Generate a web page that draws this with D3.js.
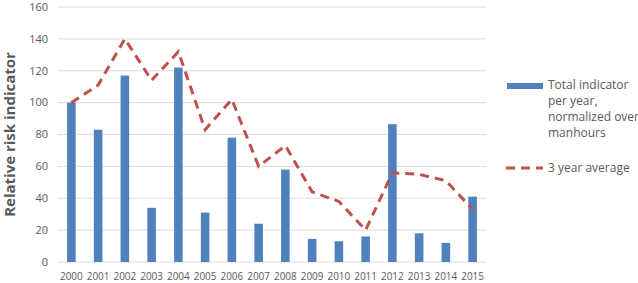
<!DOCTYPE html>
<html>
<head>
<meta charset="utf-8">
<script src="https://cdn.jsdelivr.net/npm/d3@7"></script>
<style>
  body { margin: 0; background: #fff; }
  text { font-family: "Open Sans", "Liberation Sans", sans-serif; fill: #595959; }
</style>
</head>
<body>
<div id="chart"></div>
<script>
const years = ["2000","2001","2002","2003","2004","2005","2006","2007","2008","2009","2010","2011","2012","2013","2014","2015"];
const totalIndicator = [100, 83, 117, 34, 122, 31, 78, 24, 58, 14.5, 13, 16, 86.5, 18, 12, 41];
const threeYearAvg = [100, 111, 140, 114, 132, 83, 102, 60, 73, 44, 38, 20, 56, 55, 51, 33];
const yTicks = [0, 20, 40, 60, 80, 100, 120, 140, 160];
const seriesNames = ["Total indicator per year, normalized over manhours", "3 year average"];

const width = 638, height = 283;
const margin = {top: 7, right: 152, bottom: 21, left: 58};

let svg = d3.select("#chart").append("svg")
    .attr("width", width)
    .attr("height", height);

const x = d3.scaleBand().domain(years)
    .range([margin.left, width - margin.right])
    .paddingInner(0.68).paddingOuter(0.34);
const y = d3.scaleLinear().domain([0, 160]).range([height - margin.bottom, margin.top]);

// gridlines
svg.append("g").selectAll("line").data(yTicks).join("line")
    .attr("x1", margin.left).attr("x2", width - margin.right)
    .attr("y1", d => y(d)).attr("y2", d => y(d))
    .attr("stroke", "#dcdcdc").attr("stroke-width", 1);

// y tick labels
svg.append("g").selectAll("text").data(yTicks).join("text")
    .attr("x", 48).attr("y", d => y(d)).attr("dy", "0.35em")
    .attr("text-anchor", "end").attr("font-size", 11)
    .text(d => d);

// x tick labels
svg.append("g").selectAll("text").data(years).join("text")
    .attr("x", d => x(d) + x.bandwidth() / 2).attr("y", 276)
    .attr("dy", "0.35em").attr("text-anchor", "middle").attr("font-size", 10)
    .text(d => d);

// bars
svg.append("g").selectAll("rect").data(years).join("rect")
    .attr("x", d => x(d)).attr("width", x.bandwidth())
    .attr("y", (d, i) => y(totalIndicator[i]))
    .attr("height", (d, i) => y(0) - y(totalIndicator[i]))
    .attr("fill", "#4f81bd");

// 3 year average line
const line = d3.line()
    .x((d, i) => x(years[i]) + x.bandwidth() / 2)
    .y(d => y(d));
svg.append("path").datum(threeYearAvg)
    .attr("d", line)
    .attr("fill", "none").attr("stroke", "#c0504d")
    .attr("stroke-width", 3).attr("stroke-dasharray", "9,6");

// axis title
svg.append("text")
    .attr("transform", `translate(15,${(margin.top + height - margin.bottom) / 2}) rotate(-90)`)
    .attr("text-anchor", "middle").attr("font-size", 15).attr("font-weight", "bold")
    .text("Relative risk indicator");

// legend
let legend = svg.append("g");
legend.append("rect").attr("x", 507).attr("y", 83).attr("width", 36).attr("height", 6)
    .attr("fill", "#4f81bd");
const lines1 = ["Total indicator", "per year,", "normalized over", "manhours"];
legend.append("g").selectAll("text").data(lines1).join("text")
    .attr("x", 548).attr("y", (d, i) => 85 + i * 16).attr("dy", "0.35em")
    .attr("font-size", 12).text(d => d);
legend.append("line").attr("x1", 506).attr("x2", 543).attr("y1", 168).attr("y2", 168)
    .attr("stroke", "#c0504d").attr("stroke-width", 3).attr("stroke-dasharray", "9,6");
legend.append("text").attr("x", 548).attr("y", 168).attr("dy", "0.35em")
    .attr("font-size", 12).text(seriesNames[1]);
</script>
</body>
</html>
